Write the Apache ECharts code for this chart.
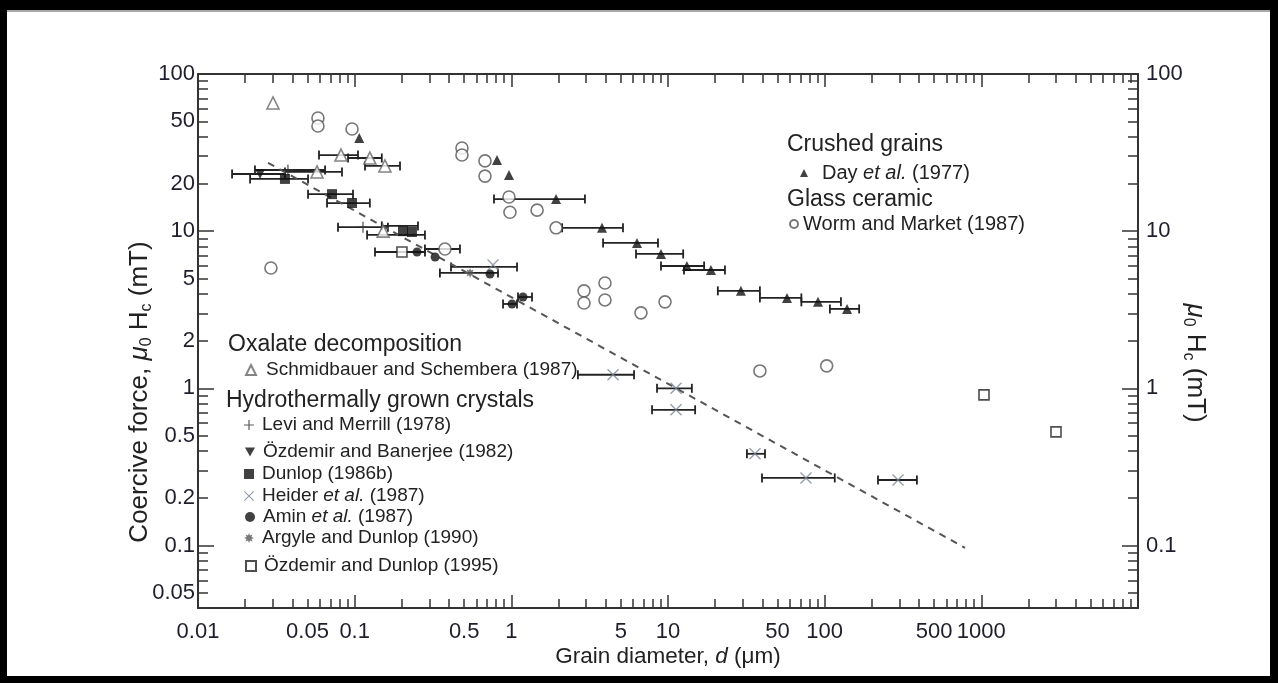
<!DOCTYPE html>
<html>
<head>
<meta charset="utf-8">
<script src="https://cdn.jsdelivr.net/npm/echarts@6/dist/echarts.min.js"></script>
<style>
  html, body { margin: 0; padding: 0; background: #000; width: 1278px; height: 683px; overflow: hidden; }
  #frame { position: absolute; left: 7px; top: 10px; width: 1263px; height: 666px; background: #fff; border-top: 2px solid #a8a8a8; box-sizing: border-box; }
  #chart { position: absolute; left: 0; top: 0; width: 1278px; height: 683px; }
</style>
</head>
<body>
<div id="frame"></div>
<div id="chart"></div>
<script>
// ---- tick labels ----
const xTickLabels = [0.01, 0.05, 0.1, 0.5, 1, 5, 10, 50, 100, 500, 1000];
const xMajorTicks = [0.1, 1, 10, 100, 1000];
const yLeftTickLabels = [0.05, 0.1, 0.2, 0.5, 1, 2, 5, 10, 20, 50, 100];
const yRightTickLabels = [0.1, 1, 10, 100];
const yMajorTicks = [0.1, 1, 10, 100];
const minorMultipliers = [2, 3, 4, 5, 6, 7, 8, 9];

// ---- data: [grain diameter (um), Hc (mT)] ----
const dayData = [[0.107, 39.2], [0.81, 28.4], [0.966, 22.8], [1.93, 16.0], [3.79, 10.5], [6.34, 8.41], [9.02, 7.16], [13.2, 6.0], [18.8, 5.66], [29.2, 4.17], [57.5, 3.76], [90.7, 3.55], [139, 3.2]];
const wormData = [[0.0292, 5.83], [0.0583, 52.5], [0.0583, 46.7], [0.0962, 44.7], [0.377, 7.7], [0.484, 33.8], [0.484, 30.5], [0.679, 28.0], [0.679, 22.4], [0.966, 16.5], [0.98, 13.2], [1.46, 13.6], [1.93, 10.5], [2.91, 4.17], [2.91, 3.49], [3.96, 4.68], [3.96, 3.65], [6.72, 3.02], [9.57, 3.55], [38.6, 1.29], [103, 1.39]];
const schmidData = [[0.0301, 65.4], [0.0818, 30.5], [0.125, 29.2], [0.156, 26.0], [0.0575, 23.8], [0.152, 10.0]];
const leviData = [[0.0375, 24.5], [0.113, 10.6]];
const ozBanData = [[0.0249, 23.1]];
const dunlopData = [[0.0359, 21.5], [0.0717, 17.2], [0.0962, 15.1], [0.2035, 10.0], [0.232, 9.88]];
const heiderData = [[0.764, 6.1], [4.46, 1.22], [11.25, 1.0], [11.25, 0.73], [35.9, 0.383], [76, 0.269], [294, 0.261]];
const aminData = [[0.25, 7.37], [0.326, 6.85], [0.731, 5.34], [1.01, 3.44], [1.187, 3.81]];
const argyleData = [[0.545, 5.42]];
const ozDunData = [[0.2004, 7.37], [1040, 0.908], [2996, 0.528]];
// horizontal error bars: [d low, d high, Hc]
const errorBars = [
  [0.775, 2.95, 16.0], [2.11, 5.16, 10.5], [3.85, 8.63, 8.41], [6.25, 12.5, 7.16], [9.02, 17.0, 6.0], [12.65, 23.1, 5.66], [20.8, 38.6, 4.17], [38.6, 71, 3.76], [71, 127, 3.55], [108, 166, 3.2],
  [0.0592, 0.105, 30.5], [0.0907, 0.149, 29.2], [0.1164, 0.1947, 26.0], [0.0359, 0.083, 23.8],
  [0.0231, 0.0647, 24.5], [0.0783, 0.163, 10.6],
  [0.0165, 0.0359, 23.1],
  [0.0215, 0.0504, 21.5], [0.0504, 0.0976, 17.2], [0.0666, 0.125, 15.1], [0.149, 0.2535, 10.8], [0.12, 0.281, 9.46],
  [0.1348, 0.281, 7.37], [0.281, 0.47, 7.7], [0.35, 0.822, 5.42], [0.412, 1.087, 5.92], [0.885, 1.087, 3.44], [1.103, 1.355, 3.81],
  [2.66, 6.07, 1.22], [8.51, 14.2, 1.0], [7.91, 14.9, 0.73], [31.9, 41.6, 0.383], [39.8, 116, 0.269], [219, 388, 0.261]
];
const fitLine = [[0.028, 27.2], [787, 0.0966]];

// ---- helpers ----
function minorTicks(eLo, eHi, lo, hi) {
  const out = [];
  for (let e = eLo; e < eHi; e++) {
    for (const m of minorMultipliers) {
      const v = +(m * Math.pow(10, e)).toPrecision(6);
      if (v >= lo && v <= hi) out.push(v);
    }
  }
  return out;
}
const fmt = v => String(+(+v).toPrecision(4));
const FONT = '"Liberation Sans", Arial, Helvetica, sans-serif';
const INK = '#222';
const AX = '#333';
const TICKFS = 22;

const xMinor = minorTicks(-2, 4, 0.01, 10000);
const yMinor = minorTicks(-2, 2, 0.04, 100);

function xAx(pos, ticks, len, opts) {
  return Object.assign({
    type: 'log', logBase: 10, min: 0.01, max: 10000, position: pos,
    axisLine: { show: false },
    axisTick: { show: true, inside: true, length: len, customValues: ticks, lineStyle: { color: AX, width: 1.5 } },
    axisLabel: { show: false },
    splitLine: { show: false }, minorTick: { show: false }
  }, opts || {});
}
function yAx(pos, ticks, len, opts) {
  return Object.assign({
    type: 'log', logBase: 10, min: 0.04, max: 100, position: pos,
    axisLine: { show: false },
    axisTick: { show: true, inside: true, length: len, customValues: ticks, lineStyle: { color: AX, width: 1.5 } },
    axisLabel: { show: false },
    splitLine: { show: false }, minorTick: { show: false }
  }, opts || {});
}

const symPlus = 'path://M4.4,0h1.2v4.4h4.4v1.2h-4.4v4.4h-1.2v-4.4h-4.4v-1.2h4.4z';
const symCross = 'path://M0.8,0L5,4.2L9.2,0L10,0.8L5.8,5L10,9.2L9.2,10L5,5.8L0.8,10L0,9.2L4.2,5L0,0.8Z';
const symDown = 'path://M0,0L10,0L5,9Z';
const symStar = 'path://M10,5L7.4,6L8.54,8.54L6,7.4L5,10L4,7.4L1.46,8.54L2.6,6L0,5L2.6,4L1.46,1.46L4,2.6L5,0L6,2.6L8.54,1.46L7.4,4Z';

const chart = echarts.init(document.getElementById('chart'), null, { renderer: 'canvas' });

function scat(name, data, symbol, size, itemStyle) {
  return { type: 'scatter', name, data, symbol, symbolSize: size, itemStyle, z: 5, xAxisIndex: 0, yAxisIndex: 0 };
}

function legendAt(name, left, top, icon, gapW, fs) {
  return {
    data: [name], left, top, padding: 0, itemWidth: icon, itemHeight: icon, selectedMode: false,
    formatter: n => '{g|}' + n.replace('et al.', '{i|et al.}'),
    textStyle: { fontFamily: FONT, fontSize: fs, color: INK, lineHeight: 20,
      rich: { g: { width: gapW, fontSize: fs }, i: { fontStyle: 'italic', fontFamily: FONT, fontSize: fs, color: INK } } }
  };
}
function heading(text, x, y) {
  return { type: 'text', x, y, z: 10, style: { text, fontFamily: FONT, fontSize: 23, fill: INK, verticalAlign: 'middle', align: 'left' } };
}
const subRich = {
  m: { fontStyle: 'italic', fontFamily: FONT, fontSize: 26, color: INK, lineHeight: 30 },
  s: { fontFamily: FONT, fontSize: 16, color: INK, verticalAlign: 'bottom', lineHeight: 16 }
};

const option = {
  animation: false,
  grid: { left: 198, top: 74, right: 140, bottom: 75, containLabel: false },
  xAxis: [
    xAx('bottom', xMinor, 9, {
      axisLine: { show: true, lineStyle: { color: AX, width: 2 } },
      axisLabel: { show: true, customValues: xTickLabels, formatter: fmt, margin: 13, fontFamily: FONT, fontSize: TICKFS, color: '#1e1e2c' },
      name: 'Grain diameter, {i|d} (μm)', nameLocation: 'middle', nameGap: 37, nameMoveOverlap: false,
      nameTextStyle: { fontFamily: FONT, fontSize: 22.5, color: INK, rich: { i: { fontStyle: 'italic', fontFamily: FONT, fontSize: 22.5, color: INK } } }
    }),
    xAx('bottom', xMajorTicks, 13),
    xAx('top', xMinor, 9, { axisLine: { show: true, lineStyle: { color: AX, width: 2 } } }),
    xAx('top', xMajorTicks, 13)
  ],
  yAxis: [
    yAx('left', yMinor, 10, {
      axisLine: { show: true, lineStyle: { color: AX, width: 2 } },
      axisLabel: { show: true, customValues: yLeftTickLabels, formatter: fmt, margin: 3, fontFamily: FONT, fontSize: TICKFS, color: '#1e1e2c' },
      name: 'Coercive force, {m|μ}{s|0} H{s|c} (mT)', nameLocation: 'middle', nameRotate: 90, nameGap: 43, nameMoveOverlap: false,
      nameTextStyle: { fontFamily: FONT, fontSize: 26, color: INK, lineHeight: 30, padding: [0, 102, 0, 0], rich: subRich }
    }),
    yAx('left', yMajorTicks, 16),
    yAx('right', yMinor, 10, {
      axisLine: { show: true, lineStyle: { color: AX, width: 2 } },
      axisLabel: { show: true, customValues: yRightTickLabels, formatter: fmt, margin: 8, fontFamily: FONT, fontSize: TICKFS, color: '#1e1e2c' },
      name: '{m|μ}{s|0} H{s|c} (mT)', nameLocation: 'middle', nameRotate: -90, nameGap: 42, nameMoveOverlap: false,
      nameTextStyle: { fontFamily: FONT, fontSize: 26, color: INK, lineHeight: 30, padding: [0, 0, 0, 44], rich: subRich }
    }),
    yAx('right', yMajorTicks, 16)
  ],
  legend: [
    legendAt('Day et al. (1977)', 800, 163, 8, 9, 20),
    legendAt('Worm and Market (1987)', 789, 214, 8, 0, 20),
    legendAt('Schmidbauer and Schembera (1987)', 245, 360, 10, 5, 19),
    legendAt('Levi and Merrill (1978)', 244, 415, 10, 3, 19),
    legendAt('Özdemir and Banerjee (1982)', 245, 442, 10, 3, 19),
    legendAt('Dunlop (1986b)', 244, 464, 10, 3, 19),
    legendAt('Heider et al. (1987)', 244, 486, 10, 3, 19),
    legendAt('Amin et al. (1987)', 245, 507, 10, 3, 19),
    legendAt('Argyle and Dunlop (1990)', 244, 528, 10, 3, 19),
    legendAt('Özdemir and Dunlop (1995)', 245, 556, 10, 3, 19)
  ],
  graphic: [
    heading('Crushed grains', 787, 145),
    heading('Glass ceramic', 787, 200),
    heading('Oxalate decomposition', 228, 345),
    heading('Hydrothermally grown crystals', 226, 401)
  ],
  series: [
    {
      type: 'custom', name: 'error bars', data: errorBars, z: 2, xAxisIndex: 0, yAxisIndex: 0,
      encode: { x: [0, 1], y: 2 },
      renderItem: function (params, api) {
        const y = api.value(2);
        const p1 = api.coord([api.value(0), y]);
        const p2 = api.coord([api.value(1), y]);
        const h = 4.5;
        const st = { stroke: '#222', lineWidth: 1.8 };
        return {
          type: 'group', children: [
            { type: 'line', shape: { x1: p1[0], y1: p1[1], x2: p2[0], y2: p2[1] }, style: st },
            { type: 'line', shape: { x1: p1[0], y1: p1[1] - h, x2: p1[0], y2: p1[1] + h }, style: st },
            { type: 'line', shape: { x1: p2[0], y1: p2[1] - h, x2: p2[0], y2: p2[1] + h }, style: st }
          ]
        };
      }
    },
    {
      type: 'line', name: 'fit', data: fitLine, showSymbol: false, symbol: 'none', z: 3, xAxisIndex: 0, yAxisIndex: 0,
      lineStyle: { color: '#555', width: 2, type: [7, 6] }
    },
    scat('Day et al. (1977)', dayData, 'triangle', 10, { color: '#111' }),
    scat('Worm and Market (1987)', wormData, 'circle', 12, { color: '#fff', borderColor: '#555', borderWidth: 1.6 }),
    scat('Schmidbauer and Schembera (1987)', schmidData, 'triangle', 12, { color: '#fff', borderColor: '#666', borderWidth: 1.6 }),
    scat('Levi and Merrill (1978)', leviData, symPlus, 11, { color: '#333' }),
    scat('Özdemir and Banerjee (1982)', ozBanData, symDown, 10, { color: '#111' }),
    scat('Dunlop (1986b)', dunlopData, 'rect', 10, { color: '#111' }),
    scat('Heider et al. (1987)', heiderData, symCross, 12, { color: '#7a8496' }),
    scat('Amin et al. (1987)', aminData, 'circle', 9, { color: '#111' }),
    scat('Argyle and Dunlop (1990)', argyleData, symStar, 10, { color: '#555' }),
    scat('Özdemir and Dunlop (1995)', ozDunData, 'rect', 10, { color: '#fff', borderColor: '#222', borderWidth: 1.6 })
  ]
};
chart.setOption(option);
</script>
</body>
</html>
